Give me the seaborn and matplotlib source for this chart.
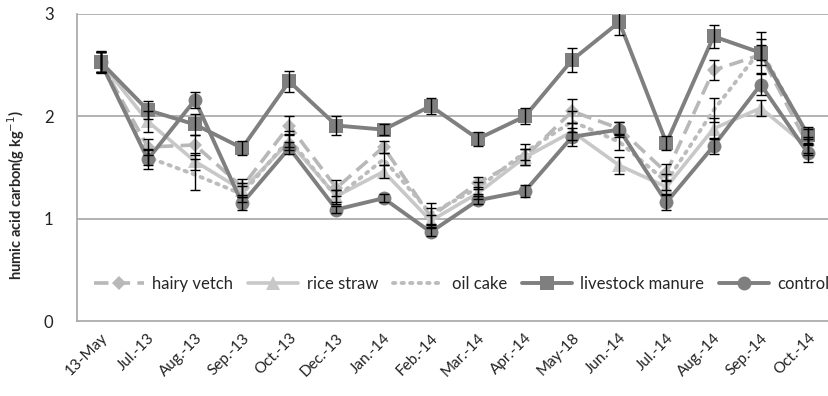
import numpy as np
import pandas as pd
import matplotlib
matplotlib.use("Agg")
import matplotlib.pyplot as plt
import seaborn as sns

months = ["13-May", "Jul.-13", "Aug.-13", "Sep.-13", "Oct.-13", "Dec.-13", "Jan.-14", "Feb.-14",
          "Mar.-14", "Apr.-14", "May-18", "Jun.-14", "Jul.-14", "Aug.-14", "Sep.-14", "Oct.-14"]

hairy_vetch = [2.53, 1.70, 1.72, 1.31, 1.91, 1.30, 1.70, 1.02, 1.35, 1.60, 2.05, 1.88, 1.45, 2.45, 2.60, 1.72]
hairy_vetch_err = [0.10, 0.08, 0.10, 0.08, 0.09, 0.08, 0.06, 0.08, 0.06, 0.08, 0.12, 0.06, 0.08, 0.10, 0.10, 0.08]

rice_straw = [2.53, 1.95, 1.56, 1.28, 1.75, 1.22, 1.46, 0.98, 1.25, 1.60, 1.85, 1.52, 1.31, 1.88, 2.08, 1.70]
rice_straw_err = [0.10, 0.10, 0.08, 0.07, 0.08, 0.06, 0.06, 0.06, 0.06, 0.08, 0.08, 0.08, 0.07, 0.10, 0.08, 0.08]

oil_cake = [2.53, 1.60, 1.43, 1.24, 1.78, 1.21, 1.58, 1.05, 1.30, 1.65, 1.95, 1.75, 1.36, 2.06, 2.65, 1.80]
oil_cake_err = [0.10, 0.08, 0.15, 0.08, 0.08, 0.07, 0.06, 0.10, 0.06, 0.08, 0.10, 0.08, 0.08, 0.12, 0.10, 0.08]

livestock_manure = [2.53, 2.06, 1.92, 1.69, 2.34, 1.91, 1.87, 2.10, 1.78, 2.00, 2.55, 2.92, 1.74, 2.78, 2.62, 1.82]
livestock_manure_err = [0.11, 0.09, 0.10, 0.07, 0.10, 0.09, 0.05, 0.08, 0.07, 0.08, 0.12, 0.13, 0.07, 0.11, 0.20, 0.08]

control = [2.53, 1.58, 2.16, 1.15, 1.69, 1.09, 1.20, 0.87, 1.18, 1.27, 1.80, 1.87, 1.16, 1.71, 2.31, 1.64]
control_err = [0.10, 0.09, 0.08, 0.06, 0.06, 0.03, 0.04, 0.04, 0.04, 0.06, 0.09, 0.07, 0.07, 0.08, 0.10, 0.09]

sns.set_theme(style="white")
plt.rcParams["font.family"] = ["Lato", "DejaVu Sans"]

fig = plt.figure(figsize=(8.29, 3.96), dpi=100)
ax = fig.add_axes([0.093, 0.189, 0.910, 0.776])

x = np.arange(len(months))

series = [
    ("hairy vetch", hairy_vetch, hairy_vetch_err,
     dict(color="#b8b8b8", linestyle=(0, (4, 2)), marker="D", markersize=7.5, linewidth=2.6)),
    ("rice straw", rice_straw, rice_straw_err,
     dict(color="#c8c8c8", linestyle="-", marker="^", markersize=9.5, linewidth=2.6)),
    ("oil cake", oil_cake, oil_cake_err,
     dict(color="#bcbcbc", linestyle=(0, (0.6, 1.6)), marker=None, linewidth=2.8,
          dash_capstyle="round")),
    ("livestock manure", livestock_manure, livestock_manure_err,
     dict(color="#7f7f7f", linestyle="-", marker="s", markersize=10.5, linewidth=2.8)),
    ("control", control, control_err,
     dict(color="#7f7f7f", linestyle="-", marker="o", markersize=10, linewidth=2.8)),
]

for name, vals, errs, style in series:
    df = pd.DataFrame({"x": x, "y": vals})
    sns.lineplot(data=df, x="x", y="y", ax=ax, label=name, markeredgewidth=0, **style)
    ax.errorbar(x, vals, yerr=errs, fmt="none", ecolor="black", elinewidth=1.0,
                capsize=3.5, capthick=1.0, zorder=5)

ax.set_xlim(-0.5, len(months) - 0.5)
ax.set_ylim(0, 3)
ax.set_yticks([0, 1, 2, 3])
ax.set_yticklabels(["0", "1", "2", "3"], fontsize=12)
ax.set_xticks(x)
ax.set_xticklabels(months, rotation=45, ha="right", rotation_mode="anchor", fontsize=11)
ax.tick_params(axis="both", length=0, colors="#222222")
ax.tick_params(axis="y", pad=17)
ax.tick_params(axis="x", pad=7)

for yv in [1, 2, 3]:
    ax.axhline(yv, color="#a6a6a6", linewidth=1.2, zorder=0)

for side in ["top", "right"]:
    ax.spines[side].set_visible(False)
for side in ["left", "bottom"]:
    ax.spines[side].set_color("#a6a6a6")
    ax.spines[side].set_linewidth(1.2)

ax.set_xlabel("")
ax.set_ylabel("humic acid carbon(g kg$^{-1}$)", fontsize=10.5, fontweight="bold")
ax.yaxis.set_label_coords(-0.066, 0.41)

leg = ax.legend(loc="center", bbox_to_anchor=(0.51, 0.12), ncol=5, frameon=False,
                fontsize=12, handlelength=3.0, columnspacing=0.9, handletextpad=0.5)

fig.savefig("out.png", dpi=100)
